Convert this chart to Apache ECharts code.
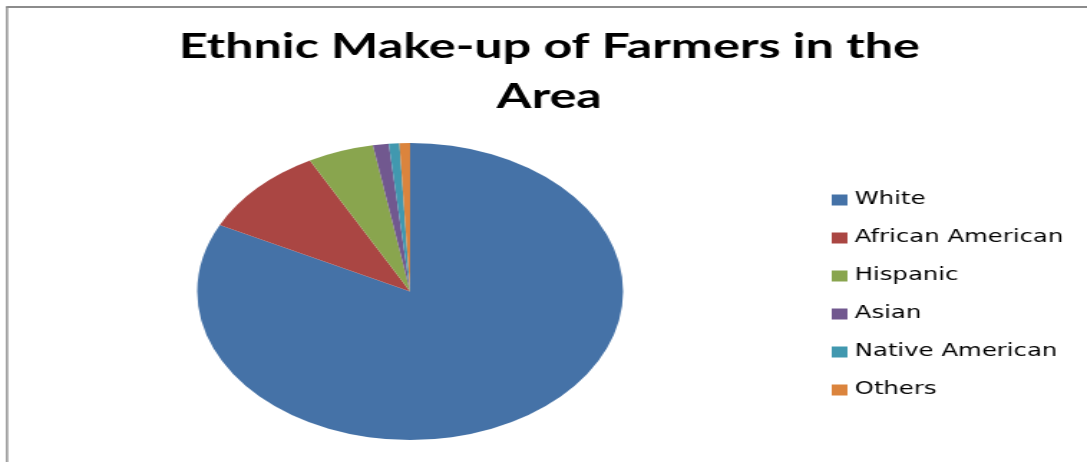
<!DOCTYPE html>
<html>
<head>
<meta charset="utf-8">
<script src="https://cdn.jsdelivr.net/npm/echarts@6/dist/echarts.min.js"></script>
<style>
  html, body { margin: 0; padding: 0; background: #fff; overflow: hidden; }
  /* the reference is a stretched picture, so the chart is drawn narrow and scaled in x */
  #wrap { width: 1087px; height: 462px; overflow: hidden; }
  #chart { width: 758px; height: 462px; transform: scaleX(1.434); transform-origin: 0 0; }
</style>
</head>
<body>
<div id="wrap"><div id="chart"></div></div>
<script>
const groups = ['White', 'African American', 'Hispanic', 'Asian', 'Native American', 'Others'];
const shares = [82.4, 9.8, 5.0, 1.2, 0.8, 0.8];
const colors = ['#4572A7', '#AA4643', '#89A54E', '#71588F', '#4198AF', '#DB843D'];

const chart = echarts.init(document.getElementById('chart'));
const option = {
  animation: false,
  color: colors,
  title: {
    text: 'Ethnic Make-up of Farmers in the\nArea',
    left: 378,
    top: 17,
    textAlign: 'center',
    textStyle: { fontFamily: 'Lato', fontWeight: 'bold', fontSize: 35, lineHeight: 50, color: '#000' }
  },
  legend: {
    orient: 'vertical',
    left: 575,
    top: 185,
    itemWidth: 11,
    itemHeight: 11,
    itemGap: 18,
    icon: 'rect',
    textStyle: { fontFamily: 'DejaVu Sans', fontSize: 17, lineHeight: 20, color: '#000' },
    data: groups
  },
  graphic: [
    { type: 'line', shape: { x1: 4.9, y1: 7, x2: 4.9, y2: 470 }, style: { stroke: '#8c8c8c', lineWidth: 1.4 } },
    { type: 'line', shape: { x1: 4.2, y1: 7, x2: 770, y2: 7 }, style: { stroke: '#8c8c8c', lineWidth: 2 } }
  ],
  series: [{
    type: 'pie',
    center: [286, 291.5],
    radius: 148.5,
    startAngle: 90,
    clockwise: true,
    label: { show: false },
    labelLine: { show: false },
    itemStyle: { borderWidth: 0 },
    emphasis: { disabled: true },
    data: groups.map((g, i) => ({ name: g, value: shares[i] }))
  }]
};
chart.setOption(option);
</script>
</body>
</html>
